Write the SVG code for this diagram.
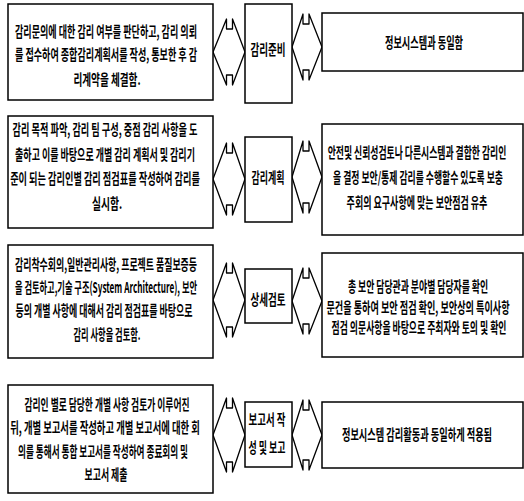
<svg xmlns="http://www.w3.org/2000/svg" width="524" height="501" viewBox="0 0 524 501">
<style>
.box{fill:#fff;stroke:#000;stroke-width:1.5}
.arr{fill:#fff;stroke:#000;stroke-width:1.3;stroke-linejoin:round}
.t{font-family:"Noto Sans CJK KR","Noto Sans",sans-serif;font-size:15px;font-weight:bold;text-anchor:middle;fill:#000}
</style>
<rect width="524" height="501" fill="#fff"/>
<g id="connectors">
<path class="arr" d="M213,52 L226.5,19 L226.5,29 L232.5,29 L232.5,19 L245,52 L232.5,85 L232.5,75 L226.5,75 L226.5,85 Z"/>
<path class="arr" d="M292,47 L303,14 L303,24 L309,24 L309,14 L322,47 L309,80 L309,70 L303,70 L303,80 Z"/>
<path class="arr" d="M213,179 L226.5,143 L226.5,153 L232.5,153 L232.5,143 L245,179 L232.5,215 L232.5,205 L226.5,205 L226.5,215 Z"/>
<path class="arr" d="M292,177 L303,141 L303,151 L309,151 L309,141 L322,177 L309,213 L309,203 L303,203 L303,213 Z"/>
<path class="arr" d="M213,300 L226.5,263 L226.5,273 L232.5,273 L232.5,263 L245,300 L232.5,337 L232.5,327 L226.5,327 L226.5,337 Z"/>
<path class="arr" d="M292,301 L303,268 L303,278 L309,278 L309,268 L322,301 L309,334 L309,324 L303,324 L303,334 Z"/>
<path class="arr" d="M213,435 L226.5,398 L226.5,408 L232.5,408 L232.5,398 L245,435 L232.5,472 L232.5,462 L226.5,462 L226.5,472 Z"/>
<path class="arr" d="M292,435 L303,400 L303,410 L309,410 L309,400 L322,435 L309,470 L309,460 L303,460 L303,470 Z"/>
</g>
<g id="left1">
<rect class="box" x="8" y="4" width="205" height="96"/>
<text class="t" transform="translate(106,37) scale(0.55,1)" textLength="331" lengthAdjust="spacingAndGlyphs">감리문의에 대한 감리 여부를 판단하고, 감리 의뢰</text>
<text class="t" transform="translate(106,60) scale(0.55,1)" textLength="331" lengthAdjust="spacingAndGlyphs">를 접수하여 종합감리계획서를 작성, 통보한 후 감</text>
<text class="t" transform="translate(107,85) scale(0.55,1)" textLength="122" lengthAdjust="spacingAndGlyphs">리계약을 체결함.</text>
</g>
<g id="mid1">
<rect class="box" x="245" y="4" width="47" height="99"/>
<text class="t" transform="translate(268,55) scale(0.55,1)" textLength="64" lengthAdjust="spacingAndGlyphs">감리준비</text>
</g>
<g id="right1">
<rect class="box" x="322" y="13" width="201" height="58"/>
<text class="t" transform="translate(424,48) scale(0.55,1)" textLength="142" lengthAdjust="spacingAndGlyphs">정보시스템과 동일함</text>
</g>
<g id="left2">
<rect class="box" x="8" y="116" width="205" height="112"/>
<text class="t" transform="translate(105,135) scale(0.55,1)" textLength="336" lengthAdjust="spacingAndGlyphs">감리 목적 파악, 감리 팀 구성, 중점 감리 사항을 도</text>
<text class="t" transform="translate(105,160) scale(0.55,1)" textLength="327" lengthAdjust="spacingAndGlyphs">출하고 이를 바탕으로 개별 감리 계획서 및 감리기</text>
<text class="t" transform="translate(105,184) scale(0.55,1)" textLength="345" lengthAdjust="spacingAndGlyphs">준이 되는 감리인별 감리 점검표를 작성하여 감리를</text>
<text class="t" transform="translate(107,209) scale(0.55,1)" textLength="55" lengthAdjust="spacingAndGlyphs">실시함.</text>
</g>
<g id="mid2">
<rect class="box" x="245" y="137" width="47" height="85"/>
<text class="t" transform="translate(268,183) scale(0.55,1)" textLength="60" lengthAdjust="spacingAndGlyphs">감리계획</text>
</g>
<g id="right2">
<rect class="box" x="322" y="124" width="201" height="111"/>
<text class="t" transform="translate(417,158) scale(0.55,1)" textLength="325" lengthAdjust="spacingAndGlyphs">안전및 신뢰성검토나 다른시스템과 결합한 감리인</text>
<text class="t" transform="translate(418,183) scale(0.55,1)" textLength="309" lengthAdjust="spacingAndGlyphs">을 결정 보안/통제 감리를 수행할수 있도록 보충</text>
<text class="t" transform="translate(417,208) scale(0.55,1)" textLength="256" lengthAdjust="spacingAndGlyphs">주회의 요구사항에 맞는 보안점검 유추</text>
</g>
<g id="left3">
<rect class="box" x="8" y="245" width="205" height="113"/>
<text class="t" transform="translate(106,270) scale(0.55,1)" textLength="331" lengthAdjust="spacingAndGlyphs">감리착수회의,일반관리사항, 프로젝트 품질보증등</text>
<text class="t" transform="translate(106,293) scale(0.55,1)" textLength="331" lengthAdjust="spacingAndGlyphs">을 검토하고,기술 구조(System Architecture), 보안</text>
<text class="t" transform="translate(104,316) scale(0.55,1)" textLength="322" lengthAdjust="spacingAndGlyphs">등의 개별 사항에 대해서 감리 점검표를 바탕으로</text>
<text class="t" transform="translate(107,340) scale(0.55,1)" textLength="122" lengthAdjust="spacingAndGlyphs">감리 사항을 검토함.</text>
</g>
<g id="mid3">
<rect class="box" x="245" y="269" width="47" height="54"/>
<text class="t" transform="translate(268,305) scale(0.55,1)" textLength="64" lengthAdjust="spacingAndGlyphs">상세검토</text>
</g>
<g id="right3">
<rect class="box" x="322" y="253" width="201" height="104"/>
<text class="t" transform="translate(418,292) scale(0.55,1)" textLength="255" lengthAdjust="spacingAndGlyphs">총 보안 담당관과 분야별 담당자를 확인</text>
<text class="t" transform="translate(418,313) scale(0.55,1)" textLength="333" lengthAdjust="spacingAndGlyphs">문건을 통하여 보안 점검 확인, 보안상의 특이사항</text>
<text class="t" transform="translate(419,333) scale(0.55,1)" textLength="318" lengthAdjust="spacingAndGlyphs">점검 의문사항을 바탕으로 주최자와 토의 및 확인</text>
</g>
<g id="left4">
<rect class="box" x="8" y="385" width="205" height="108"/>
<text class="t" transform="translate(107,410) scale(0.55,1)" textLength="300" lengthAdjust="spacingAndGlyphs">감리인 별로 담당한 개별 사항 검토가 이루어진</text>
<text class="t" transform="translate(105,433) scale(0.55,1)" textLength="345" lengthAdjust="spacingAndGlyphs">뒤, 개별 보고서를 작성하고 개별 보고서에 대한 회</text>
<text class="t" transform="translate(103,457) scale(0.55,1)" textLength="309" lengthAdjust="spacingAndGlyphs">의를 통해서 통합 보고서를 작성하여 종료회의 및</text>
<text class="t" transform="translate(106,480) scale(0.55,1)" textLength="78" lengthAdjust="spacingAndGlyphs">보고서 제출</text>
</g>
<g id="mid4">
<rect class="box" x="245" y="402" width="47" height="65"/>
<text class="t" transform="translate(267,425) scale(0.55,1)" textLength="67" lengthAdjust="spacingAndGlyphs">보고서 작</text>
<text class="t" transform="translate(267,453) scale(0.55,1)" textLength="67" lengthAdjust="spacingAndGlyphs">성 및 보고</text>
</g>
<g id="right4">
<rect class="box" x="322" y="402" width="201" height="66"/>
<text class="t" transform="translate(417,440) scale(0.55,1)" textLength="273" lengthAdjust="spacingAndGlyphs">정보시스템 감리활동과 동일하게 적용됨</text>
</g>
</svg>
